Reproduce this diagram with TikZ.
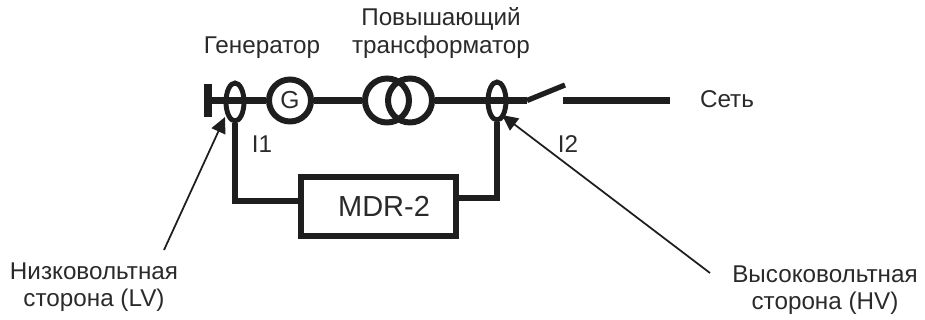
\documentclass[tikz,border=0pt]{standalone}
\usepackage{fontspec}
\setmainfont{Liberation Sans}
\usetikzlibrary{positioning,shapes.geometric,arrows.meta}
\definecolor{wirecol}{HTML}{1E1E1E}
\definecolor{textcol}{HTML}{2A2A2A}
\tikzstyle{wire}=[line width=3.4pt,color=wirecol]
\tikzstyle{busline}=[line width=4pt,color=wirecol]
\tikzstyle{machine}=[circle,draw=wirecol,line width=3.4pt,minimum size=0.88cm,inner sep=0pt]
\tikzstyle{ct}=[ellipse,draw=wirecol,line width=2.8pt,minimum width=0.36cm,minimum height=0.76cm,inner sep=0pt]
\tikzstyle{unit}=[draw=wirecol,line width=3.4pt,minimum width=3.1cm,minimum height=1.18cm,inner sep=0pt]
\tikzstyle{callout}=[line width=1pt,color=wirecol,-{Triangle[length=9pt,width=8.5pt]}]
\tikzstyle{label}=[text=textcol,font=\fontsize{13.8pt}{15pt}\selectfont,inner sep=0pt,align=center]
\begin{document}
\begin{tikzpicture}[x=0.02cm,y=-0.02cm]
		\useasboundingbox (0,0) rectangle (925,320);

		% nodes
		\coordinate (busup) at (208,84);
		\coordinate (busdown) at (208,117);
		\coordinate (bus) at (208,100.5);
		\node[ct] (ct1) at (235,102) {};
		\node[machine,minimum size=0.84cm,text=textcol,font=\fontsize{14pt}{16pt}\selectfont] (gen) at (290,100.5) {G};
		\node[machine] (trleft) at (387,100.5) {};
		\node[machine] (trright) at (410,100.5) {};
		\node[ct] (ct2) at (497,101) {};
		\node[unit,text=textcol,font=\fontsize{16.5pt}{18pt}\selectfont] (relay) at (378.5,206.5) {\hspace*{0.22cm}MDR-2};

		% main line
		\coordinate (swleft) at (527,100.5);
		\coordinate (swtip) at (565,85);
		\coordinate (netleft) at (563,100.5);
		\coordinate (netright) at (670,100.5);
		\draw[busline] (busup) -- (busdown);
		\draw[busline] (bus) -- (gen);
		\draw[busline] (gen) -- (trleft);
		\draw[busline] (trright) -- (swleft);
		\draw[wire,line width=3pt] (swleft) -- (swtip);
		\draw[busline] (netleft) -- (netright);

		% secondary circuit
		\coordinate (relayin) at (301,201);
		\coordinate (relayout) at (456,198);
		\draw[wire] (ct1.south) |- (relayin);
		\draw[wire] (ct2.south) |- (relayout);

		% labels
		\node[label] (gname) at (262,48) {Генератор};
		\node[label] (trname) at (441,33) {Повышающий\\[0.8pt]трансформатор};
		\node[label] (net) at (727,99) {Сеть};
		\node[label] (i1) at (262,144) {I1};
		\node[label] (i2) at (568,144) {I2};
		\node[label] (lv) at (94,287) {Низковольтная\\сторона (LV)};
		\node[label] (hv) at (825,290) {Высоковольтная\\сторона (HV)};

		% callouts
		\coordinate (lvstart) at (164,250);
		\coordinate (lvtip) at (225,117);
		\coordinate (hvstart) at (710,273);
		\coordinate (hvtip) at (502,115);
		\draw[callout] (lvstart) -- (lvtip);
		\draw[callout] (hvstart) -- (hvtip);
	\end{tikzpicture}
\end{document}
